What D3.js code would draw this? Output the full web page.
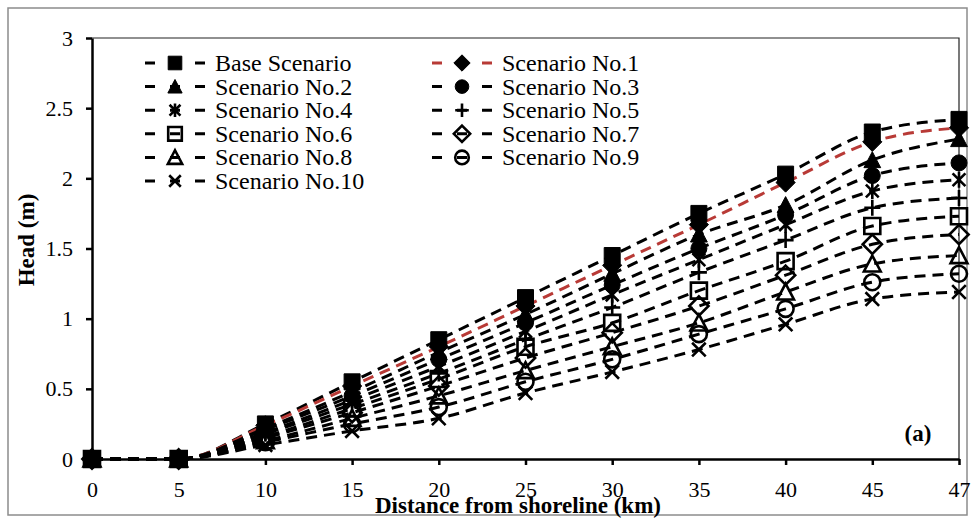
<!DOCTYPE html>
<html><head><meta charset="utf-8">
<script src="https://cdn.jsdelivr.net/npm/d3@7"></script>
<style>
html,body{margin:0;padding:0;background:#fff;}
svg{display:block;}
svg text{font-family:"Liberation Serif","Times New Roman",serif;}
</style></head>
<body><svg id="chart" width="974" height="521"></svg>
<script>
const xLabels = ["0","5","10","15","20","25","30","35","40","45","47"];
const yTicks = [0,0.5,1,1.5,2,2.5,3];
const seriesNames = ["Base Scenario","Scenario No.1","Scenario No.2","Scenario No.3","Scenario No.4","Scenario No.5","Scenario No.6","Scenario No.7","Scenario No.8","Scenario No.9","Scenario No.10"];
const baseScenario = [0,0,0.25,0.55,0.85,1.15,1.45,1.75,2.03,2.33,2.42];
const scenario1 = [0,0,0.24,0.52,0.80,1.09,1.38,1.67,1.97,2.26,2.36];
const scenario2 = [0,0,0.22,0.48,0.76,1.03,1.32,1.60,1.81,2.13,2.28];
const scenario3 = [0,0,0.21,0.45,0.71,0.97,1.24,1.50,1.74,2.02,2.11];
const scenario4 = [0,0,0.19,0.42,0.66,0.91,1.17,1.42,1.67,1.91,1.99];
const scenario5 = [0,0,0.18,0.39,0.61,0.85,1.08,1.33,1.56,1.79,1.86];
const scenario6 = [0,0,0.16,0.36,0.57,0.80,0.97,1.20,1.41,1.66,1.73];
const scenario7 = [0,0,0.15,0.33,0.52,0.72,0.90,1.09,1.31,1.53,1.60];
const scenario8 = [0,0,0.13,0.29,0.45,0.63,0.80,0.97,1.19,1.39,1.45];
const scenario9 = [0,0,0.12,0.25,0.37,0.55,0.71,0.89,1.07,1.26,1.32];
const scenario10 = [0,0,0.10,0.20,0.29,0.47,0.62,0.78,0.96,1.14,1.19];
const seriesValues = [baseScenario,scenario1,scenario2,scenario3,scenario4,scenario5,scenario6,scenario7,scenario8,scenario9,scenario10];
const markerTypes = ["square","diamond","triangle","circle","asterisk","plus","osquare","odiamond","otriangle","ocircle","times"];
const lineColors = ["#000","#b83a36","#000","#000","#000","#000","#000","#000","#000","#000","#000"];

const FONT = "Liberation Serif, Times New Roman, serif";
const svg = d3.select("#chart");
const W = 974, H = 521;
const m = {l:92, t:38, r:15, b:62};
const x = d3.scalePoint().domain(xLabels).range([m.l, W - m.r]);
const y = d3.scaleLinear().domain([0,3]).range([H - m.b, m.t]);

// outer border
svg.append("rect").attr("x",8).attr("y",8).attr("width",959).attr("height",507)
  .attr("fill","#fff").attr("stroke","#8c8c8c").attr("stroke-width",1.5);

// plot area thin border (top and right)
svg.append("path").attr("d",`M${m.l},${m.t}H${W-m.r}V${H-m.b}`)
  .attr("fill","none").attr("stroke","#222").attr("stroke-width",1.2);

function markerPath(type, r){
  switch(type){
    case "square": case "osquare": return `M${-r},${-r}H${r}V${r}H${-r}Z`;
    case "diamond": case "odiamond": { const d=r*1.2; return `M0,${-d}L${d},0L0,${d}L${-d},0Z`; }
    case "triangle": case "otriangle": { const h=r*1.05; return `M0,${-h}L${r*1.05},${h*0.9}L${-r*1.05},${h*0.9}Z`; }
    case "circle": case "ocircle": return `M${r},0A${r},${r} 0 1,1 ${-r},0A${r},${r} 0 1,1 ${r},0Z`;
    case "plus": return `M${-r},0H${r}M0,${-r}V${r}`;
    case "times": { const d=r*0.85; return `M${-d},${-d}L${d},${d}M${-d},${d}L${d},${-d}`; }
    case "asterisk": { const d=r*0.8; return `M${-d},${-d}L${d},${d}M${-d},${d}L${d},${-d}M0,${-r}V${r}`; }
  }
}
function markerStyle(sel, type){
  const filled = ["square","diamond","triangle","circle"].includes(type);
  sel.attr("fill", filled ? "#000" : "none")
     .attr("stroke","#000")
     .attr("stroke-width", filled ? 1 : 2.6)
     .attr("stroke-linejoin","miter");
}

// axes
const yAxis = d3.axisLeft(y).tickValues(yTicks).tickFormat(d=>String(d)).tickSize(6).tickSizeOuter(0).tickPadding(13);
const gy = svg.append("g").attr("transform",`translate(${m.l},0)`).call(yAxis);
gy.attr("font-family",FONT).attr("font-size",22);
gy.selectAll("text").attr("font-size",22).attr("fill","#000").attr("font-family",FONT);
gy.selectAll(".tick line").attr("stroke","#000").attr("stroke-width",2.5);
gy.select(".domain").attr("stroke","#000").attr("stroke-width",2.5);

const xAxis = d3.axisBottom(x).tickSize(6).tickSizeOuter(0);
const gx = svg.append("g").attr("transform",`translate(0,${H-m.b})`).call(xAxis);
gx.attr("font-family",FONT).attr("font-size",22);
gx.selectAll("text").attr("font-size",22).attr("fill","#000").attr("font-family",FONT)
  .attr("dy",null).attr("y",38);
gx.selectAll(".tick line").attr("stroke","#000").attr("stroke-width",2.5);
gx.select(".domain").attr("stroke","#000").attr("stroke-width",2.5);

// lines
const line = d3.line().x((d,i)=>x(xLabels[i])).y(d=>y(d)).curve(d3.curveMonotoneX);
const gl = svg.append("g");
seriesValues.forEach((vals,si)=>{
  gl.append("path").datum(vals).attr("d",line)
    .attr("fill","none").attr("stroke",lineColors[si]).attr("stroke-width",3)
    .attr("stroke-dasharray","11,7");
});
// markers (base drawn last, on top)
const gm = svg.append("g");
for(let si=seriesValues.length-1; si>=0; si--){
  const t = markerTypes[si];
  gm.append("g").selectAll("path").data(seriesValues[si]).join("path")
    .attr("transform",(d,i)=>`translate(${x(xLabels[i])},${y(d)})`)
    .attr("d",markerPath(t,8))
    .call(markerStyle,t);
}

// legend
const legCols = [{x0:145, tx:215},{x0:432, tx:502}];
const rowY0 = 63, rowH = 23.6;
seriesNames.forEach((name,i)=>{
  const col = legCols[i%2], row = Math.floor(i/2);
  const cy = rowY0 + row*rowH;
  const g = svg.append("g");
  g.append("line").attr("x1",col.x0).attr("x2",col.x0+60).attr("y1",cy).attr("y2",cy)
    .attr("stroke",lineColors[i]).attr("stroke-width",3).attr("stroke-dasharray","10,15");
  g.append("path").attr("transform",`translate(${col.x0+30},${cy})`)
    .attr("d",markerPath(markerTypes[i],6.8)).call(markerStyle,markerTypes[i]);
  g.append("text").attr("x",col.tx).attr("y",cy).attr("dy","0.33em")
    .attr("font-family",FONT).attr("font-size",24).attr("fill","#000").text(name);
});

// axis titles
svg.append("text").attr("x",518).attr("y",513).attr("text-anchor","middle")
  .attr("font-family",FONT).attr("font-size",23).attr("font-weight","bold").text("Distance from shoreline (km)");
svg.append("text").attr("transform","translate(34,240) rotate(-90)").attr("text-anchor","middle")
  .attr("font-family",FONT).attr("font-size",23).attr("font-weight","bold").text("Head (m)");
svg.append("text").attr("x",918).attr("y",441).attr("text-anchor","middle")
  .attr("font-family",FONT).attr("font-size",23).attr("font-weight","bold").text("(a)");
</script></body></html>
